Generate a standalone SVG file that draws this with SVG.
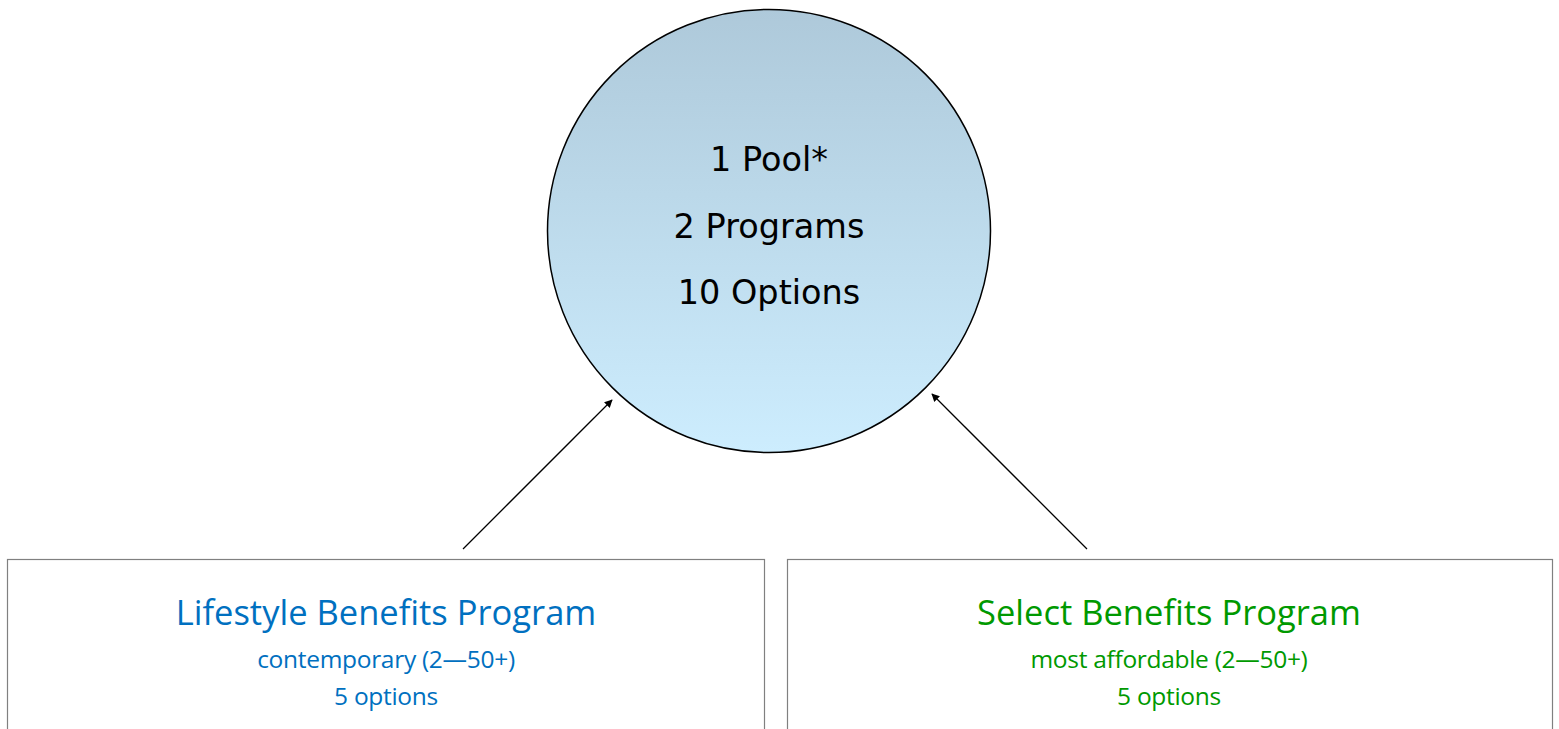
<svg xmlns="http://www.w3.org/2000/svg" width="1559" height="729" viewBox="0 0 1559 729">
<style>
.circ{stroke:#000;stroke-width:1.5}
.ctext{font-family:"DejaVu Sans",sans-serif;font-size:33.5px;fill:#000;text-anchor:middle}
.box{fill:#fff;stroke:#808080;stroke-width:1.2}
.title{font-family:"Open Sans",sans-serif;font-size:34.5px;text-anchor:middle}
.sub{font-family:"Open Sans",sans-serif;font-size:24.5px;text-anchor:middle;letter-spacing:-0.3px}
.blue{fill:#0070C0}
.green{fill:#009900}
.conn{stroke:#000;stroke-width:1.3;fill:none;marker-end:url(#ah)}
</style>
<defs>
<linearGradient id="g" x1="0" y1="0" x2="0" y2="1">
<stop offset="0" stop-color="#AEC9DA"/>
<stop offset="1" stop-color="#CDEDFE"/>
</linearGradient>
<marker id="ah" viewBox="0 0 10 10" refX="9" refY="5" markerWidth="8" markerHeight="8" markerUnits="userSpaceOnUse" orient="auto">
<path d="M0,0 L10,5 L0,10 z" fill="#000"/>
</marker>
</defs>
<rect width="1559" height="729" fill="#fff"/>
<g id="pool">
<circle class="circ" cx="769" cy="231" r="221.5" fill="url(#g)"/>
<text class="ctext" x="769" y="171">1 Pool*</text>
<text class="ctext" x="769" y="238">2 Programs</text>
<text class="ctext" x="769" y="304">10 Options</text>
</g>
<g id="lifestyle">
<rect class="box" x="7.5" y="559.5" width="757" height="180"/>
<text class="title blue" x="386" y="625">Lifestyle Benefits Program</text>
<text class="sub blue" x="386" y="668">contemporary (2—50+)</text>
<text class="sub blue" x="386" y="705">5 options</text>
</g>
<g id="select">
<rect class="box" x="787.5" y="559.5" width="765" height="180"/>
<text class="title green" x="1169" y="625">Select Benefits Program</text>
<text class="sub green" x="1169" y="668">most affordable (2—50+)</text>
<text class="sub green" x="1169" y="705">5 options</text>
</g>
<g id="connectors">
<line class="conn" x1="463" y1="549" x2="612" y2="400"/>
<line class="conn" x1="1087" y1="549" x2="932" y2="394"/>
</g>
</svg>
